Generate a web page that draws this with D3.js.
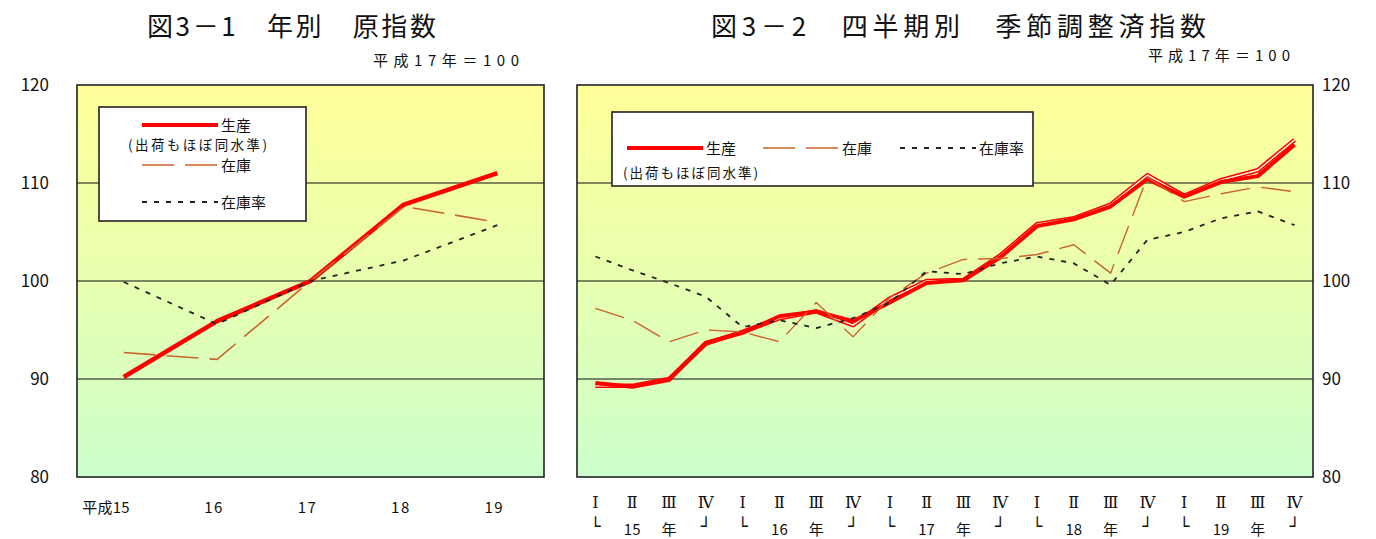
<!DOCTYPE html>
<html lang="ja">
<head>
<meta charset="utf-8">
<script src="https://cdn.jsdelivr.net/npm/d3@7"></script>
<style>
  html, body { margin: 0; padding: 0; background: #fff; }
  svg { display: block; font-family: "Noto Sans CJK JP", "Noto Sans", sans-serif; }
</style>
</head>
<body>
<svg id="chart" width="1376" height="539"></svg>
<script>
// 年別 原指数（平成17年＝100）
const years = ["15", "16", "17", "18", "19"];
const annualProduction = [90.2, 95.9, 100.0, 107.8, 111.0];
const annualInventory = [92.7, 92.0, 100.0, 107.6, 106.0];
const annualInventoryRatio = [99.9, 95.6, 100.0, 102.1, 105.7];

// 四半期別 季節調整済指数（平成15年Ⅰ期〜19年Ⅳ期）
const quarterNames = ["Ⅰ", "Ⅱ", "Ⅲ", "Ⅳ"];
const quarters = years.flatMap(y => quarterNames.map(q => y + q));
const qProduction = [89.6, 89.2, 89.9, 93.7, 94.7, 96.4, 96.9, 95.9, 97.8, 99.8,
                     100.1, 102.4, 105.6, 106.3, 107.6, 110.4, 108.6, 110.1, 110.7, 113.9];
const qShipments = [89.3, 89.3, 90.0, 93.6, 94.8, 96.2, 96.9, 95.5, 98.2, 100.0,
                    100.1, 102.6, 105.8, 106.4, 107.8, 110.8, 108.7, 110.3, 111.3, 114.4];
const qInventory = [97.2, 96.0, 93.8, 95.0, 94.8, 93.8, 97.8, 94.3, 98.3, 100.8,
                    102.2, 102.3, 102.7, 103.7, 100.8, 110.6, 108.1, 108.9, 109.6, 109.1];
const qInventoryRatio = [102.5, 101.1, 99.8, 98.4, 95.3, 96.0, 95.2, 96.2, 97.8, 101.0,
                         100.7, 101.8, 102.5, 101.8, 99.6, 104.2, 105.0, 106.4, 107.1, 105.7];

const yTicks = [80, 90, 100, 110, 120];
const gridValues = [90, 100, 110];

const svg = d3.select("#chart");
const defs = svg.append("defs");
const grad = defs.append("linearGradient")
  .attr("id", "plotFill").attr("x1", 0).attr("y1", 0).attr("x2", 0).attr("y2", 1);
grad.append("stop").attr("offset", "0%").attr("stop-color", "#ffff99");
grad.append("stop").attr("offset", "45%").attr("stop-color", "#eaffad");
grad.append("stop").attr("offset", "100%").attr("stop-color", "#ccffcc");

const y = d3.scaleLinear().domain([80, 120]).range([477, 85]);

const colors = { production: "#ff0000", inventory: "#c8642d", ratio: "#222222" };

function plotFrame(g, x0, x1) {
  g.append("rect")
    .attr("x", x0).attr("y", y(120))
    .attr("width", x1 - x0).attr("height", y(80) - y(120))
    .attr("fill", "url(#plotFill)");
  g.selectAll("line.grid").data(gridValues).join("line")
    .attr("class", "grid")
    .attr("x1", x0).attr("x2", x1)
    .attr("y1", d => y(d)).attr("y2", d => y(d))
    .attr("stroke", "#111").attr("stroke-width", 1.2);
}

function frameBorder(g, x0, x1) {
  g.append("rect")
    .attr("x", x0).attr("y", y(120))
    .attr("width", x1 - x0).attr("height", y(80) - y(120))
    .attr("fill", "none").attr("stroke", "#222").attr("stroke-width", 1.6);
}

function drawSeries(g, x, cats, values, style) {
  const line = d3.line().x((d, i) => x(cats[i]) + x.bandwidth() / 2).y(d => y(d));
  const p = g.append("path").datum(values).attr("d", line).attr("fill", "none")
    .attr("stroke", style.color).attr("stroke-width", style.width)
    .attr("stroke-linejoin", "round");
  if (style.dash) p.attr("stroke-dasharray", style.dash);
  if (style.hollow) {
    g.append("path").datum(values).attr("d", line).attr("fill", "none")
      .attr("stroke", "#fffbe0").attr("stroke-width", style.hollow)
      .attr("stroke-linejoin", "round");
  }
}

function legendItem(g, x0, yy, style, label) {
  const l = g.append("line").attr("x1", x0).attr("x2", x0 + 76)
    .attr("y1", yy).attr("y2", yy)
    .attr("stroke", style.color).attr("stroke-width", style.width);
  if (style.dash) l.attr("stroke-dasharray", style.dash);
  g.append("text").attr("x", x0 + 79).attr("y", yy + 5.5)
    .attr("font-size", 15).attr("fill", "#111").text(label);
}

const prodStyle = { color: colors.production, width: 4 };
const invStyle = { color: colors.inventory, width: 1.6, dash: "32,11" };
const ratioStyle = { color: colors.ratio, width: 1.8, dash: "5,7" };

/* ---------------- 図3－1 年別 原指数 ---------------- */
const left = svg.append("g");
const xL = d3.scaleBand().domain(years).range([77, 544]);
plotFrame(left, 77, 544);
drawSeries(left, xL, years, annualProduction, { color: colors.production, width: 4.5 });
drawSeries(left, xL, years, annualInventory, invStyle);
drawSeries(left, xL, years, annualInventoryRatio, ratioStyle);
frameBorder(left, 77, 544);

left.append("text").attr("x", 147).attr("y", 36)
  .attr("font-size", 26).attr("fill", "#111")
  .attr("textLength", 289).attr("lengthAdjust", "spacing")
  .text("図3－1　年別　原指数");
left.append("text").attr("x", 373).attr("y", 66)
  .attr("font-size", 15).attr("fill", "#111")
  .attr("textLength", 146).attr("lengthAdjust", "spacing")
  .text("平成17年＝100");

left.selectAll("text.ytick").data(yTicks).join("text")
  .attr("class", "ytick")
  .attr("x", 49).attr("y", d => y(d) + 6).attr("text-anchor", "end")
  .attr("font-size", 17).attr("fill", "#111").text(d => d);

left.selectAll("text.xtick").data(years).join("text")
  .attr("class", "xtick")
  .attr("x", d => xL(d) + xL.bandwidth() / 2 - 3)
  .attr("y", 513).attr("text-anchor", "middle")
  .attr("font-size", 15).attr("fill", "#111")
  .attr("letter-spacing", 1.5)
  .text(d => d);
// 先頭の年には元号を付ける
left.select("text.xtick").attr("text-anchor", "end")
  .attr("x", xL(years[0]) + xL.bandwidth() / 2 + 6)
  .attr("letter-spacing", 0.2)
  .text("平成" + years[0]);

// 凡例
const legL = left.append("g");
legL.append("rect").attr("x", 99).attr("y", 107).attr("width", 207).attr("height", 114)
  .attr("fill", "#fff").attr("stroke", "#222").attr("stroke-width", 1.6);
legendItem(legL, 142, 125, prodStyle, "生産");
legL.append("text").attr("x", 128).attr("y", 150)
  .attr("font-size", 13.5).attr("fill", "#111")
  .attr("textLength", 139).attr("lengthAdjust", "spacing")
  .text("(出荷もほぼ同水準)");
legendItem(legL, 142, 165, invStyle, "在庫");
legendItem(legL, 142, 202, ratioStyle, "在庫率");

/* ---------------- 図3－2 四半期別 季節調整済指数 ---------------- */
const right = svg.append("g");
const xR = d3.scaleBand().domain(quarters).range([577, 1313]);
plotFrame(right, 577, 1313);
drawSeries(right, xR, quarters, qShipments, { color: colors.production, width: 4.5, hollow: 1.4 });
drawSeries(right, xR, quarters, qProduction, prodStyle);
drawSeries(right, xR, quarters, qInventory, { color: colors.inventory, width: 1.4, dash: "30,11" });
drawSeries(right, xR, quarters, qInventoryRatio, ratioStyle);
frameBorder(right, 577, 1313);

right.append("text").attr("x", 711).attr("y", 36)
  .attr("font-size", 26).attr("fill", "#111")
  .attr("textLength", 495).attr("lengthAdjust", "spacing")
  .text("図3－2　四半期別　季節調整済指数");
right.append("text").attr("x", 1148).attr("y", 61)
  .attr("font-size", 15).attr("fill", "#111")
  .attr("textLength", 142).attr("lengthAdjust", "spacing")
  .text("平成17年＝100");

right.selectAll("text.ytick").data(yTicks).join("text")
  .attr("class", "ytick")
  .attr("x", 1322).attr("y", d => y(d) + 6).attr("text-anchor", "start")
  .attr("font-size", 17).attr("fill", "#111").text(d => d);

right.selectAll("text.qtick").data(quarters).join("text")
  .attr("class", "qtick")
  .attr("x", d => xR(d) + xR.bandwidth() / 2)
  .attr("y", 508).attr("text-anchor", "middle")
  .attr("font-family", "DejaVu Serif, serif")
  .attr("font-size", 16).attr("fill", "#111")
  .text((d, i) => quarterNames[i % 4]);

// 年の区切り：└ 15 年 ┘
const yearMarks = ["└", null, "年", "┘"];
const isBracket = i => i % 4 === 0 || i % 4 === 3;
right.selectAll("text.yrow").data(quarters).join("text")
  .attr("class", "yrow")
  .attr("x", d => xR(d) + xR.bandwidth() / 2)
  .attr("y", (d, i) => isBracket(i) ? 532 : 535).attr("text-anchor", "middle")
  .attr("font-family", (d, i) => isBracket(i) ? "DejaVu Sans Mono, monospace" : null)
  .attr("font-size", (d, i) => isBracket(i) ? 17 : 15).attr("fill", "#111")
  .text((d, i) => yearMarks[i % 4] ?? years[Math.floor(i / 4)]);

// 凡例
const legR = right.append("g");
legR.append("rect").attr("x", 612).attr("y", 112).attr("width", 421).attr("height", 74)
  .attr("fill", "#fff").attr("stroke", "#222").attr("stroke-width", 1.6);
legendItem(legR, 627, 148, prodStyle, "生産");
legendItem(legR, 763, 148, invStyle, "在庫");
legendItem(legR, 900, 148, ratioStyle, "在庫率");
legR.append("text").attr("x", 623).attr("y", 178)
  .attr("font-size", 13.5).attr("fill", "#111")
  .attr("textLength", 135).attr("lengthAdjust", "spacing")
  .text("(出荷もほぼ同水準)");
</script>
</body>
</html>
